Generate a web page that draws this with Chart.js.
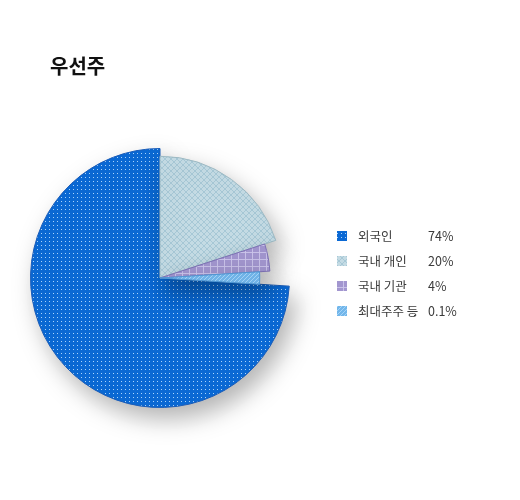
<!DOCTYPE html>
<html lang="ko">
<head>
<meta charset="utf-8">
<script src="https://cdn.jsdelivr.net/npm/chart.js@4/dist/chart.umd.min.js"></script>
<style>
  html, body { margin: 0; padding: 0; background: #fff; }
  #wrap { width: 520px; height: 500px; position: relative; }
</style>
</head>
<body>
<div id="wrap"><canvas id="myChart" width="520" height="500"></canvas></div>
<script>
// data
const titleText = '우선주';
const categories = ['외국인', '국내 개인', '국내 기관', '최대주주 등'];
const valueLabels = ['74%', '20%', '4%', '0.1%'];
// share of the circle each slice takes in the picture
const sliceShares = [74, 20, 4, 2];
// each slice is drawn at its own radius
const radiusRatio = [1, 0.94, 0.85, 0.77];

function makePattern(kind) {
    const c = document.createElement('canvas');
    const g = c.getContext('2d');
    if (kind === 'dots') {
        c.width = 4; c.height = 4;
        g.fillStyle = '#0b69d4'; g.fillRect(0, 0, 4, 4);
        g.fillStyle = 'rgba(190,225,255,0.9)'; g.fillRect(1, 1, 1, 1);
    } else if (kind === 'cross') {
        c.width = 6; c.height = 6;
        g.fillStyle = '#c4dbe4'; g.fillRect(0, 0, 6, 6);
        g.strokeStyle = 'rgba(160,195,210,0.8)'; g.lineWidth = 1;
        g.beginPath();
        g.moveTo(0, 0); g.lineTo(6, 6);
        g.moveTo(6, 0); g.lineTo(0, 6);
        g.stroke();
    } else if (kind === 'grid') {
        c.width = 7; c.height = 7;
        g.fillStyle = '#a296cf'; g.fillRect(0, 0, 7, 7);
        g.fillStyle = 'rgba(205,198,235,0.9)';
        g.fillRect(0, 0, 7, 1); g.fillRect(0, 0, 1, 7);
    } else {
        c.width = 4; c.height = 4;
        g.fillStyle = '#72b6ea'; g.fillRect(0, 0, 4, 4);
        g.strokeStyle = 'rgba(170,215,250,0.9)';
        g.beginPath(); g.moveTo(0, 4); g.lineTo(4, 0); g.stroke();
    }
    return g.createPattern(c, 'repeat');
}

// pie whose slices have different radii
class StepPieController extends Chart.PieController {
    updateElement(el, i, props, mode) {
        if (props && props.outerRadius !== undefined) {
            props.outerRadius = props.outerRadius * (radiusRatio[i] || 1);
        }
        super.updateElement(el, i, props, mode);
    }
}
StepPieController.id = 'steppie';
StepPieController.defaults = Chart.PieController.defaults;
StepPieController.overrides = Chart.PieController.overrides;
Chart.register(StepPieController);

const fills = [makePattern('dots'), makePattern('cross'), makePattern('grid'), makePattern('stripe')];
const borders = ['#1a5cb8', '#9db9c3', '#7d70b5', '#4f97d4'];

const shadowPlugin = {
    id: 'shadow',
    beforeDatasetsDraw(chart) {
        const ctx = chart.ctx;
        ctx.save();
        ctx.shadowColor = 'rgba(0,0,0,0.3)';
        ctx.shadowBlur = 24;
        ctx.shadowOffsetX = 7;
        ctx.shadowOffsetY = 11;
    },
    afterDatasetsDraw(chart) {
        chart.ctx.restore();
    }
};

// title and legend with a value column
const sideText = {
    id: 'sideText',
    afterDraw(chart) {
        const ctx = chart.ctx;
        ctx.save();
        ctx.textBaseline = 'middle';
        ctx.fillStyle = '#111';
        ctx.font = 'bold 20px "Noto Sans CJK KR", sans-serif';
        ctx.fillText(titleText, 50, 66);
        ctx.font = '12.5px "Noto Sans CJK KR", "Noto Sans", sans-serif';
        for (let k = 0; k < categories.length; k++) {
            const y = 236 + k * 25;
            ctx.fillStyle = fills[k];
            ctx.fillRect(337, y - 5, 10, 10);
            ctx.fillStyle = '#3a3a3a';
            ctx.fillText(categories[k], 358, y);
            ctx.fillText(valueLabels[k], 428, y);
        }
        ctx.restore();
    }
};

new Chart(document.querySelector('#myChart'), {
    type: 'steppie',
    data: {
        labels: categories,
        datasets: [{
            data: sliceShares,
            backgroundColor: fills,
            borderColor: borders,
            borderWidth: 1
        }]
    },
    options: {
        responsive: false,
        animation: false,
        rotation: 93.6,
        layout: { padding: { left: 30, right: 230, top: 148, bottom: 92 } },
        plugins: {
            legend: { display: false },
            tooltip: { enabled: false },
            title: { display: false }
        }
    },
    plugins: [shadowPlugin, sideText]
});
</script>
</body>
</html>
